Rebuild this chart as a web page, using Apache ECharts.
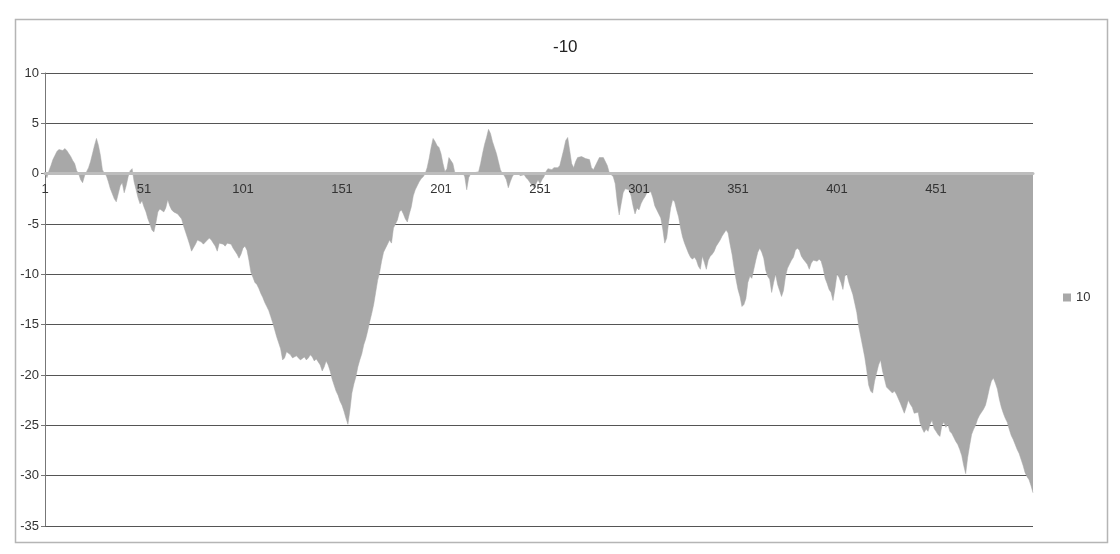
<!DOCTYPE html>
<html>
<head>
<meta charset="utf-8">
<script src="https://cdn.jsdelivr.net/npm/echarts@6/dist/echarts.min.js"></script>
<style>html,body{margin:0;padding:0;background:#fff}#c{width:1120px;height:554px}</style>
</head>
<body>
<div id="c"></div>
<script>
const chartTitle = "-10";
const seriesName = "10";
const yTicks = [-35, -30, -25, -20, -15, -10, -5, 0, 5, 10];
const values = [
0,-0.4,0.3,0.8,1.4,1.8,2.2,2.4,2.5,2.3,2.5,2.3,2.0,1.7,1.3,1.0,0.3,0,-0.6,-0.9,
-0.2,0.2,0.6,1.2,2.0,2.8,3.5,2.8,1.8,0.4,0,-0.2,-0.8,-1.5,-2.0,-2.5,-2.8,-2.0,-1.2,-0.9,
-1.9,-1.2,-0.3,0.3,0.5,-0.8,-1.6,-2.4,-3.0,-2.7,
-3.3,-3.8,-4.5,-5.0,-5.6,-5.8,-4.9,-3.8,-3.5,-3.6,-3.8,-3.4,-2.6,-3.2,-3.6,-3.8,-3.7,-4.0,-4.0,-4.5,
-5.2,-5.8,-6.4,-7.0,-7.7,-7.6,-7.0,-6.6,-6.5,-6.8,-7.0,-6.9,-6.6,-6.4,-6.6,-6.9,-7.2,-7.7,-6.9,-6.8,
-7.0,-7.2,-6.9,-6.8,-7.0,-7.4,-7.3,-8.0,-8.4,-8.0,
-7.4,-7.2,-7.6,-8.6,-9.8,-10.3,-10.8,-11.0,-11.4,-11.9,-12.3,-12.8,-13.2,-13.6,-14.2,-14.8,-15.5,-16.2,-16.8,-17.4,
-18.5,-18.3,-17.7,-17.6,-18.0,-18.3,-18.4,-18.1,-18.3,-18.5,-18.4,-18.2,-18.5,-18.3,-18.0,-18.2,-18.6,-18.4,-18.5,-19.0,
-19.6,-19.2,-18.6,-19.0,-19.6,-20.4,-21.0,-21.6,-22.0,-22.6,
-23.0,-23.6,-24.3,-24.9,-23.5,-21.8,-20.9,-20.2,-19.2,-18.5,-17.9,-17.0,-16.4,-15.6,-14.7,-13.9,-13.0,-11.8,-10.6,-9.8,
-8.7,-7.8,-7.4,-7.0,-6.6,-6.9,-5.4,-5.0,-4.6,-3.8,-3.6,-4.0,-4.5,-4.8,-4.0,-3.3,-2.2,-1.6,-1.2,-0.8,
-0.5,-0.3,0,0.6,1.5,2.6,3.5,3.2,2.8,2.6,
2.0,1.0,0.2,0.5,1.6,1.7,1.0,0.1,0,-0.1,0,0.1,-0.3,-1.6,-0.4,0,0,0.1,0,0.2,
1.0,2.0,2.9,3.6,4.4,4.0,3.2,2.6,2.0,1.2,0.4,0,-0.2,-0.6,-1.4,-0.8,-0.3,0,-0.1,0,
-0.2,-0.3,-0.1,-0.4,-0.6,-0.9,-1.1,-1.4,-1.0,-0.6,
-1.0,-0.6,-0.3,0.2,0.5,0.5,0.4,0.6,0.5,0.6,0.8,1.6,2.4,3.3,3.6,2.3,1.0,0.6,1.2,1.6,
1.6,1.7,1.6,1.5,1.6,1.4,0.6,0.4,0.5,1.2,1.6,1.7,1.6,1.5,0.8,0.1,0,-0.3,-1.0,-2.8,
-4.1,-3.0,-1.9,-1.5,-1.4,-1.6,-2.2,-3.2,-4.0,-3.4,
-3.6,-3.0,-2.6,-2.3,-1.9,-2.0,-1.8,-2.4,-3.2,-3.6,-3.5,-4.4,-5.5,-6.9,-6.4,-4.8,-3.4,-2.6,-2.8,-3.6,
-4.3,-5.4,-6.3,-6.9,-7.4,-7.9,-8.3,-8.5,-8.3,-8.6,-9.2,-9.5,-8.2,-8.8,-9.5,-8.6,-8.2,-8.0,-7.7,-7.2,
-6.9,-6.6,-6.2,-5.9,-5.6,-5.9,-7.0,-8.0,-9.3,-10.5,
-11.5,-12.2,-13.2,-13.0,-12.4,-10.8,-10.2,-10.4,-9.5,-8.6,-7.8,-7.4,-7.8,-8.4,-9.6,-10.2,-10.5,-11.8,-10.8,-10.0,
-11.0,-11.6,-12.2,-11.6,-10.2,-9.4,-9.0,-8.6,-8.3,-7.6,-7.4,-7.6,-8.2,-8.5,-8.4,-9.0,-9.5,-8.9,-8.6,-8.6,
-8.7,-8.5,-8.7,-9.4,-10.4,-10.9,-11.5,-11.8,-12.6,-11.4,
-10.0,-10.3,-10.8,-11.5,-10.2,-10.0,-10.8,-11.4,-12.0,-12.9,-13.8,-15.2,-16.2,-17.2,-18.2,-19.5,-21.0,-21.6,-21.8,-20.6,
-19.8,-19.0,-18.5,-19.6,-20.4,-21.2,-21.4,-21.6,-21.8,-21.6,-21.9,-22.0,-22.8,-23.3,-23.8,-23.2,-22.5,-22.9,-23.2,-23.8,
-23.9,-23.7,-24.8,-25.3,-25.7,-25.4,-25.6,-24.9,-24.5,-25.3,
-25.6,-25.9,-26.1,-25.0,-24.7,-25.2,-24.9,-25.6,-25.8,-26.2,-26.6,-26.9,-27.4,-28.0,-29.0,-29.8,-28.2,-27.0,-25.9,-25.4,
-25.0,-24.4,-24.0,-23.7,-23.4,-23.0,-22.2,-21.3,-20.6,-20.3,-20.8,-21.4,-22.4,-23.2,-23.8,-24.3,-24.7,-25.4,-26.0,-26.4,
-26.9,-27.4,-27.8,-28.4,-29.0,-29.7,-30.1,-30.4,-31.0,-31.7
];
const categories = values.map((_, i) => String(i + 1));

const gridTop = 73, gridBottom = 28, chartH = 554;
const plotH = chartH - gridTop - gridBottom;
const yMin = yTicks[0], yMax = yTicks[yTicks.length - 1];
// shift the category axis from the grid bottom up to the value 0
const zeroOffset = -plotH * (0 - yMin) / (yMax - yMin);

const chart = echarts.init(document.getElementById('c'), null, {renderer: 'canvas'});
const font = '"Liberation Sans", Arial, sans-serif';
chart.setOption({
  backgroundColor: '#fff',
  animation: false,
  textStyle: {fontFamily: font},
  graphic: [{
    type: 'rect', left: 13, top: 17, z: -1,
    shape: {width: 1092, height: 523},
    style: {fill: 'none', stroke: '#b5b5b5', lineWidth: 1.5}
  }],
  title: {
    text: chartTitle, left: 548, top: 34,
    textStyle: {fontFamily: font, fontSize: 17, fontWeight: 'normal', color: '#222'}
  },
  legend: {
    data: [seriesName], left: 1058, top: 286, orient: 'vertical',
    icon: 'rect', itemWidth: 8, itemHeight: 8, itemGap: 4,
    textStyle: {fontFamily: font, fontSize: 13, color: '#333'}
  },
  grid: {left: 45, right: 87, top: gridTop, bottom: gridBottom, containLabel: false},
  xAxis: {
    type: 'category', data: categories, boundaryGap: false,
    position: 'bottom', offset: zeroOffset, z: 5,
    axisLine: {onZero: false, lineStyle: {color: '#bdbdbd', width: 3}},
    axisTick: {show: false},
    axisLabel: {interval: 49, fontSize: 13, color: '#333', margin: 9, fontFamily: font},
    splitLine: {show: false}
  },
  yAxis: {
    type: 'value', min: yMin, max: yMax, interval: 5,
    axisLine: {show: true, lineStyle: {color: '#777', width: 1}},
    axisTick: {show: true, length: 4, lineStyle: {color: '#777'}},
    axisLabel: {fontSize: 13, color: '#333', margin: 6, fontFamily: font},
    splitLine: {show: true, lineStyle: {color: '#555', width: 1}}
  },
  series: [{
    name: seriesName, type: 'line', data: values,
    symbol: 'none', smooth: false,
    itemStyle: {color: '#a8a8a8'},
    lineStyle: {width: 0.5, color: '#a8a8a8'},
    areaStyle: {color: '#a8a8a8', opacity: 1}
  }]
});
</script>
</body>
</html>
